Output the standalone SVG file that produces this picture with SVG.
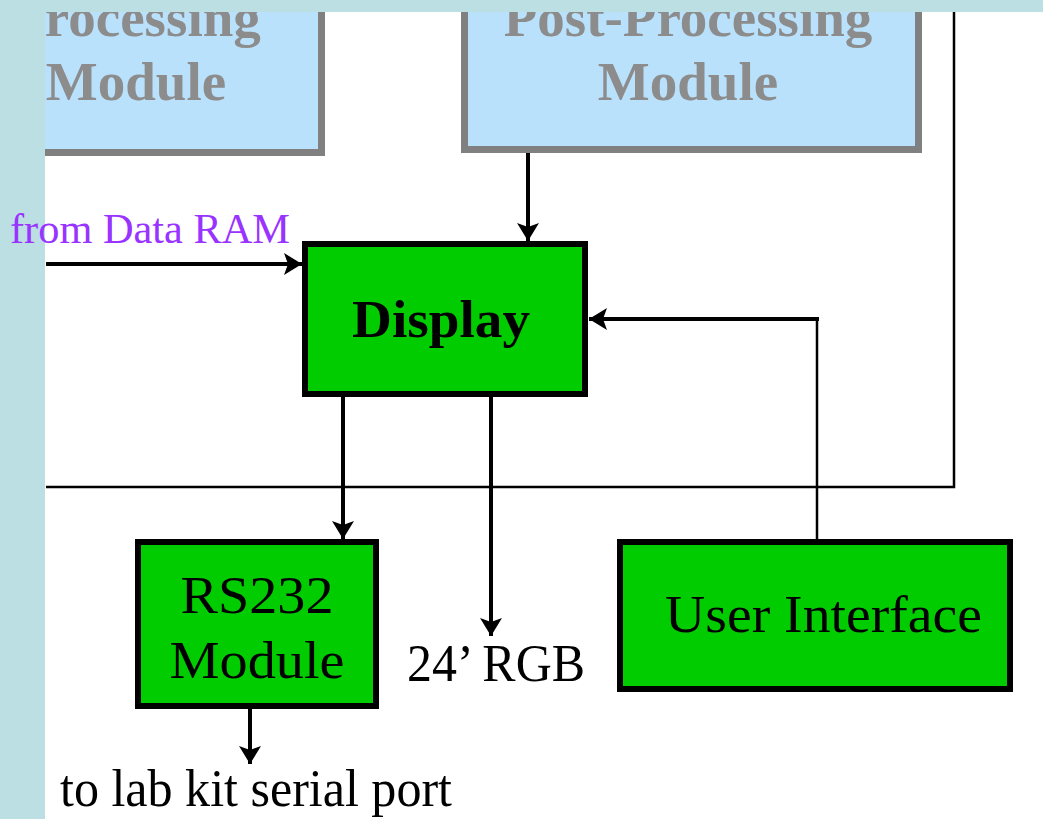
<svg xmlns="http://www.w3.org/2000/svg" width="1043" height="819" viewBox="0 0 1043 819">
  <style>
    .blue { fill: #B9E1FB; stroke: #808080; stroke-width: 7; }
    .green { fill: #00CC00; stroke: #000000; stroke-width: 6; }
    .gtxt { font-family: "Liberation Serif", "Times New Roman", serif; font-weight: bold; font-size: 55px; fill: #8C8C8C; text-anchor: middle; }
    .txt { font-family: "Liberation Serif", "Times New Roman", serif; font-size: 52px; fill: #000000; }
    .bold { font-weight: bold; }
    .purple { fill: #9933FF; font-size: 42px; }
    .wire { fill: none; stroke: #000000; stroke-width: 4; }
    .thin { fill: none; stroke: #000000; stroke-width: 2.5; }
  </style>
  <defs>
    <marker id="arrow" markerUnits="userSpaceOnUse" viewBox="0 0 18 22" refX="18" refY="11" markerWidth="18" markerHeight="22" orient="auto">
      <path d="M0,0 L18,11 L0,22 L4,11 Z" fill="#000000"/>
    </marker>
  </defs>
  <rect x="0" y="0" width="1043" height="819" fill="#FFFFFF"/>

  <g id="preprocessing">
    <rect class="blue" x="-120" y="-20" width="441.5" height="172.5"/>
    <text class="gtxt" x="136" y="36">Processing</text>
    <text class="gtxt" x="136" y="100">Module</text>
  </g>

  <g id="postprocessing">
    <rect class="blue" x="464.5" y="-20" width="454" height="169.5"/>
    <text class="gtxt" x="688" y="36">Post-Processing</text>
    <text class="gtxt" x="688" y="100">Module</text>
  </g>

  <g id="connectors">
    <path class="thin" d="M954,12 V487 H46"/>
    <path class="wire" d="M528,153 V241" marker-end="url(#arrow)"/>
    <path class="wire" d="M46,264 H302" marker-end="url(#arrow)"/>
    <path class="thin" d="M817,539 V319"/>
    <path class="wire" d="M819,319 H589" marker-end="url(#arrow)"/>
    <path class="wire" d="M343,397 V539" marker-end="url(#arrow)"/>
    <path class="wire" d="M491,397 V636" marker-end="url(#arrow)"/>
    <path class="wire" d="M250,709 V764" marker-end="url(#arrow)"/>
  </g>

  <g id="display">
    <rect class="green" x="305" y="244" width="280" height="150"/>
    <text class="txt bold" x="352" y="337" font-size="55" textLength="178" lengthAdjust="spacingAndGlyphs">Display</text>
  </g>

  <g id="rs232">
    <rect class="green" x="138" y="542" width="238" height="164"/>
    <text class="txt" x="257" y="613" text-anchor="middle" textLength="153" lengthAdjust="spacingAndGlyphs">RS232</text>
    <text class="txt" x="257" y="678" text-anchor="middle" textLength="175" lengthAdjust="spacingAndGlyphs">Module</text>
  </g>

  <g id="userinterface">
    <rect class="green" x="620" y="542" width="390" height="147"/>
    <text class="txt" x="665" y="632" textLength="317" lengthAdjust="spacingAndGlyphs">User Interface</text>
  </g>

  <g id="labels">
    <text class="txt" x="407" y="681" textLength="178" lengthAdjust="spacingAndGlyphs">24’ RGB</text>
    <text class="txt" x="60" y="806" textLength="392" lengthAdjust="spacingAndGlyphs">to lab kit serial port</text>
  </g>

  <g id="background-strips">
    <rect x="0" y="0" width="1043" height="12" fill="#BBDFE3"/>
    <rect x="0" y="0" width="45" height="819" fill="#BBDFE3"/>
  </g>

  <g id="from-label">
    <text class="txt purple" x="10" y="243" textLength="280" lengthAdjust="spacingAndGlyphs">from Data RAM</text>
  </g>
</svg>
